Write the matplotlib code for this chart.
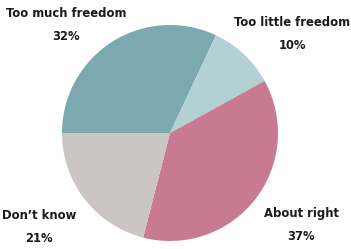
import matplotlib.pyplot as plt

# Data
labels = ["Too much freedom", "Too little freedom", "About right", "Don\u2019t know"]
shares = [32, 10, 37, 21]
colors = ["#7BA9AF", "#B3D0D3", "#C77A92", "#CBC5C4"]

plt.rcParams["font.family"] = ["DejaVu Sans"]

fig = plt.figure(figsize=(3.51, 2.49), dpi=100)
ax = fig.add_axes([0, 0, 1, 1])

ax.pie(
    shares,
    colors=colors,
    startangle=180,
    counterclock=False,
    center=(170, 116),
    radius=108,
    frame=True,
    wedgeprops=dict(linewidth=0),
)
ax.set_xlim(0, 351)
ax.set_ylim(0, 249)
ax.axis("off")

# label positions (pixels from top-left)
label_pos = [(66, 13), (292, 22), (301, 213), (39, 215)]
for lab, val, (x, y) in zip(labels, shares, label_pos):
    ax.text(x, 249 - y, lab, ha="center", va="center", fontsize=9.3,
            fontweight="bold", fontstretch="condensed", color="#1a1a1a")
    ax.text(x, 249 - y - 23, f"{val}%", ha="center", va="center", fontsize=9.3,
            fontweight="bold", fontstretch="condensed", color="#1a1a1a")

fig.savefig("out.png", dpi=100)
